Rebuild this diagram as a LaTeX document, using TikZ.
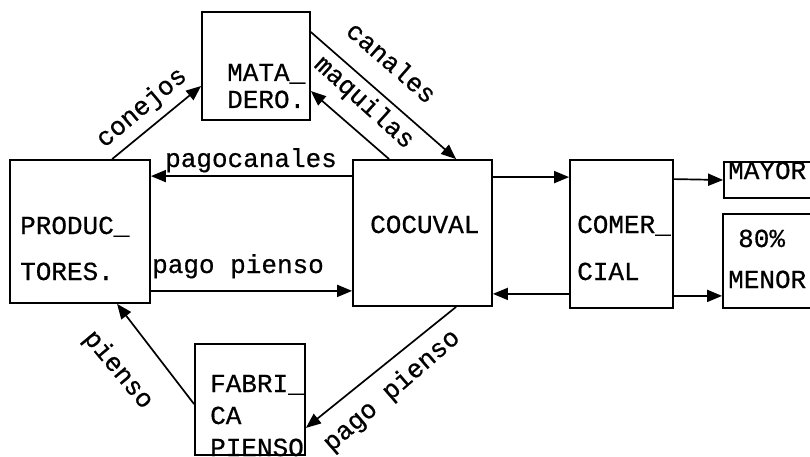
\documentclass[tikz,border=0pt]{standalone}
\usepackage{fontspec}
\setmainfont{Liberation Mono}[FakeBold=0.6]
\usetikzlibrary{arrows.meta}
\begin{document}
\begin{tikzpicture}[x=1pt,y=-1pt,
  box/.style={draw,line width=1.8pt,rectangle,inner sep=0pt},
  txt/.style={anchor=base west,inner sep=0pt,font=\fontsize{26}{30}\selectfont},
  lbl/.style={inner sep=0pt,font=\fontsize{26}{30}\selectfont},
  flow/.style={line width=1.7pt,-{Triangle[length=15pt,width=12pt]}}]
\useasboundingbox (0,0) rectangle (810,457);
\clip (0,0) rectangle (810,457);
% boxes
\node[box,minimum width=140pt,minimum height=143pt] (prod) at (80,231.5) {};
\node[box,minimum width=139pt,minimum height=146pt] (coc) at (422.5,233) {};
\node[box,minimum width=103pt,minimum height=148pt] (com) at (621.5,234) {};
\node[box,minimum width=108pt,minimum height=108pt] (mat) at (256,66) {};
\node[box,minimum width=110pt,minimum height=111pt] (fab) at (250,399.5) {};
\node[box,minimum width=126pt,minimum height=36pt] (may) at (787,180) {};
\node[box,minimum width=127pt,minimum height=94pt] (men) at (786.5,261) {};
% box texts
\node[txt] (t1) at (20,234) {PRODUC\_};
\node[txt] (t2) at (20,280) {TORES.};
\node[txt] (t3) at (370,233) {COCUVAL};
\node[txt] (t4) at (577,233) {COMER\_};
\node[txt] (t5) at (577,280) {CIAL};
\node[txt] (t6) at (728,179) {MAYOR};
\node[txt] (t7) at (738,247) {80\%};
\node[txt] (t8) at (728,288) {MENOR};
\node[txt] (t9) at (227,81) {MATA\_};
\node[txt] (t10) at (227,108) {DERO.};
\node[txt] (t11) at (210,392) {FABRI\_};
\node[txt] (t12) at (210,424) {CA};
\node[txt] (t13) at (210,456) {PIENSO};
% connectors
\draw[flow] ([xshift=103pt]prod.north west) -- ([yshift=-20pt]mat.west);
\draw[flow] ([yshift=-21pt]mat.north east) -- ([xshift=104pt]coc.north west);
\draw[flow] ([xshift=37pt]coc.north west) -- ([yshift=-80pt]mat.north east);
\draw[flow] ([yshift=-17pt]coc.north west) -- ([yshift=-17pt]prod.north east);
\draw[flow] ([yshift=13pt]prod.south east) -- ([yshift=16pt]coc.south west);
\draw[flow] ([yshift=-18pt]coc.north east) -- ([yshift=-18pt]com.north west);
\draw[flow] ([yshift=15pt]com.south west) -- ([yshift=13pt]coc.south east);
\draw[flow] ([yshift=-20pt]com.north east) -- (may.west);
\draw[flow] ([yshift=13pt]com.south east) -- ([yshift=13pt]men.south west);
\draw[flow] ([yshift=-61pt]fab.north west) -- ([xshift=108pt]prod.south west);
\draw[flow] ([xshift=104pt]coc.south west) -- ([yshift=28pt]fab.south east);
% labels
\node[lbl,rotate=40] (l1) at (142,108) {conejos};
\node[lbl,rotate=-41] (l2) at (392,62) {canales};
\node[lbl,rotate=-42] (l3) at (364,103) {maquilas};
\node[txt] (l4) at (165,167) {pagocanales};
\node[txt] (l5) at (152,273) {pago pienso};
\node[lbl,rotate=-50] (l6) at (118,370) {pienso};
\node[lbl,rotate=41] (l7) at (392,391) {pago pienso};
\end{tikzpicture}
\end{document}
